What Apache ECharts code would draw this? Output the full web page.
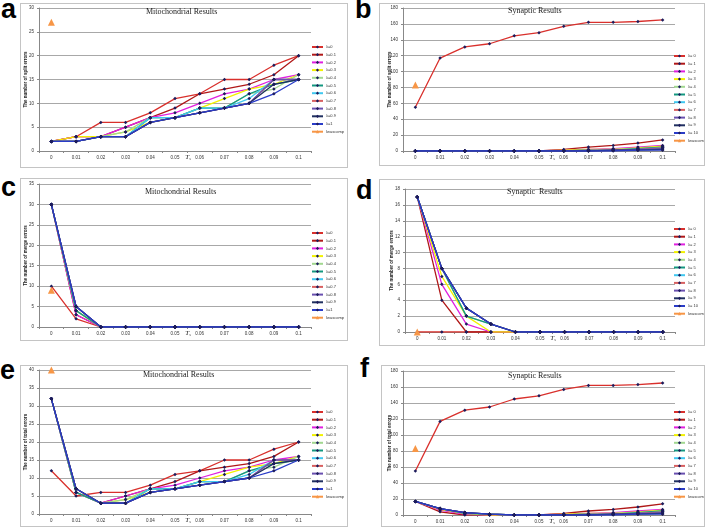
<!DOCTYPE html>
<html>
<head>
<meta charset="utf-8">
<script src="https://cdn.jsdelivr.net/npm/echarts@6/dist/echarts.min.js"></script>
<style>
  body { margin: 0; width: 708px; height: 529px; background: #fff; position: relative; overflow: hidden; font-family: "Liberation Sans", Arial, sans-serif; }
  .panel { position: absolute; border: 1px solid #c4c4c4; box-sizing: border-box; }
  .tag { position: absolute; font-weight: bold; font-size: 27px; line-height: 27px; color: #000; }
</style>
</head>
<body>
<div class="tag" style="left:1px;top:-4px">a</div>
<div class="tag" style="left:355px;top:-4px">b</div>
<div class="tag" style="left:1px;top:174px">c</div>
<div class="tag" style="left:356px;top:177px">d</div>
<div class="tag" style="left:0px;top:357px">e</div>
<div class="tag" style="left:360px;top:355px">f</div>

<div id="pa" class="panel" style="left:20px;top:3px;width:328px;height:165px"></div>
<div id="pb" class="panel" style="left:379px;top:3px;width:326px;height:163px"></div>
<div id="pc" class="panel" style="left:20px;top:178px;width:328px;height:163px"></div>
<div id="pd" class="panel" style="left:379px;top:179px;width:326px;height:167px"></div>
<div id="pe" class="panel" style="left:20px;top:365px;width:328px;height:162px"></div>
<div id="pf" class="panel" style="left:381px;top:365px;width:324px;height:162px"></div>

<script>
const tsLabels = ['0', '0.01', '0.02', '0.03', '0.04', '0.05', '0.06', '0.07', '0.08', '0.09', '0.1'];
const mitoNames = ['λ=0', 'λ=0.1', 'λ=0.2', 'λ=0.3', 'λ=0.4', 'λ=0.5', 'λ=0.6', 'λ=0.7', 'λ=0.8', 'λ=0.9', 'λ=1'];
const synNames = ['λ= 0', 'λ= 1', 'λ= 2', 'λ= 3', 'λ= 4', 'λ= 5', 'λ= 6', 'λ= 7', 'λ= 8', 'λ= 9', 'λ= 10'];
const compName = 'Iwascomp';

// a: mitochondrial split errors
const mitoSplit = [
  [2, 3, 6, 6, 8, 11, 12, 15, 15, 18, 20],
  [2, 3, 3, 5, 7, 9, 12, 13, 14, 16, 20],
  [2, 3, 3, 5, 7, 8, 10, 12, 13, 15, 16],
  [2, 3, 3, 4, 6, 7, 9, 11, 13, 14, 16],
  [2, 2, 3, 4, 7, 7, 9, 9, 12, 13, 16],
  [2, 2, 3, 3, 7, 7, 9, 9, 12, 14, 15],
  [2, 2, 3, 3, 7, 7, 9, 9, 11, 15, 15],
  [2, 2, 3, 3, 6, 7, 8, 9, 10, 15, 15],
  [2, 2, 3, 3, 6, 7, 8, 9, 10, 15, 15],
  [2, 2, 3, 3, 6, 7, 8, 9, 10, 14, 15],
  [2, 2, 3, 3, 6, 7, 8, 9, 10, 12, 15]
];
// c: mitochondrial merge errors
const mitoMerge = [
  [10, 2, 0, 0, 0, 0, 0, 0, 0, 0, 0],
  [30, 3, 0, 0, 0, 0, 0, 0, 0, 0, 0],
  [30, 3, 0, 0, 0, 0, 0, 0, 0, 0, 0],
  [30, 4, 0, 0, 0, 0, 0, 0, 0, 0, 0],
  [30, 4, 0, 0, 0, 0, 0, 0, 0, 0, 0],
  [30, 4, 0, 0, 0, 0, 0, 0, 0, 0, 0],
  [30, 5, 0, 0, 0, 0, 0, 0, 0, 0, 0],
  [30, 5, 0, 0, 0, 0, 0, 0, 0, 0, 0],
  [30, 5, 0, 0, 0, 0, 0, 0, 0, 0, 0],
  [30, 5, 0, 0, 0, 0, 0, 0, 0, 0, 0],
  [30, 5, 0, 0, 0, 0, 0, 0, 0, 0, 0]
];
// e: mitochondrial total errors
const mitoTotal = [
  [12, 5, 6, 6, 8, 11, 12, 15, 15, 18, 20],
  [32, 6, 3, 5, 7, 9, 12, 13, 14, 16, 20],
  [32, 6, 3, 5, 7, 8, 10, 12, 13, 15, 16],
  [32, 7, 3, 4, 6, 7, 9, 11, 13, 14, 16],
  [32, 6, 3, 4, 7, 7, 9, 9, 12, 13, 16],
  [32, 6, 3, 3, 7, 7, 9, 9, 12, 14, 15],
  [32, 7, 3, 3, 7, 7, 9, 9, 11, 15, 15],
  [32, 7, 3, 3, 6, 7, 8, 9, 10, 15, 15],
  [32, 7, 3, 3, 6, 7, 8, 9, 10, 15, 15],
  [32, 7, 3, 3, 6, 7, 8, 9, 10, 14, 15],
  [32, 7, 3, 3, 6, 7, 8, 9, 10, 12, 15]
];
// b: synaptic split errors
const synSplit = [
  [55, 117, 131, 135, 145, 149, 157, 162, 162, 163, 165],
  [0, 0, 0, 0, 0, 0, 2, 5, 7, 10, 14],
  [0, 0, 0, 0, 0, 0, 1, 2, 3, 5, 7],
  [0, 0, 0, 0, 0, 0, 1, 2, 2, 4, 6],
  [0, 0, 0, 0, 0, 0, 0, 1, 2, 3, 5],
  [0, 0, 0, 0, 0, 0, 0, 1, 1, 3, 5],
  [0, 0, 0, 0, 0, 0, 0, 1, 1, 2, 4],
  [0, 0, 0, 0, 0, 0, 0, 1, 1, 2, 4],
  [0, 0, 0, 0, 0, 0, 0, 0, 1, 2, 3],
  [0, 0, 0, 0, 0, 0, 0, 0, 1, 1, 2],
  [0, 0, 0, 0, 0, 0, 0, 0, 0, 1, 1]
];
// d: synaptic merge errors
const synMerge = [
  [0, 0, 0, 0, 0, 0, 0, 0, 0, 0, 0],
  [17, 4, 0, 0, 0, 0, 0, 0, 0, 0, 0],
  [17, 6, 1, 0, 0, 0, 0, 0, 0, 0, 0],
  [17, 7, 2, 0, 0, 0, 0, 0, 0, 0, 0],
  [17, 8, 2, 1, 0, 0, 0, 0, 0, 0, 0],
  [17, 8, 2, 1, 0, 0, 0, 0, 0, 0, 0],
  [17, 8, 3, 1, 0, 0, 0, 0, 0, 0, 0],
  [17, 8, 3, 1, 0, 0, 0, 0, 0, 0, 0],
  [17, 8, 3, 1, 0, 0, 0, 0, 0, 0, 0],
  [17, 8, 3, 1, 0, 0, 0, 0, 0, 0, 0],
  [17, 8, 3, 1, 0, 0, 0, 0, 0, 0, 0]
];
// f: synaptic total errors
const synTotal = [
  [55, 117, 131, 135, 145, 149, 157, 162, 162, 163, 165],
  [17, 4, 0, 0, 0, 0, 2, 5, 7, 10, 14],
  [17, 6, 1, 0, 0, 0, 1, 2, 3, 5, 7],
  [17, 7, 2, 0, 0, 0, 1, 2, 2, 4, 6],
  [17, 8, 2, 1, 0, 0, 0, 1, 2, 3, 5],
  [17, 8, 2, 1, 0, 0, 0, 1, 1, 3, 5],
  [17, 8, 3, 1, 0, 0, 0, 1, 1, 2, 4],
  [17, 8, 3, 1, 0, 0, 0, 1, 1, 2, 4],
  [17, 8, 3, 1, 0, 0, 0, 0, 1, 2, 3],
  [17, 8, 3, 1, 0, 0, 0, 0, 1, 1, 2],
  [17, 8, 3, 1, 0, 0, 0, 0, 0, 1, 1]
];
// comparison method, only at Ts = 0
const compValues = { a: 27, b: 83, c: 9, d: 0, e: 40, f: 83 };

const lineColors = ['#d9302c', '#b01818', '#e020e0', '#f2f200', '#a2d890', '#149880', '#40c8f0', '#d86060', '#6a50b0', '#203060', '#2a3cc8'];
const markerColor = '#1c1c5c';
const compColor = '#f79646';

function makePanel(id, cfg) {
  const chart = echarts.init(document.getElementById(id));
  const series = cfg.data.map((vals, i) => ({
    name: cfg.names[i],
    type: 'line',
    data: vals,
    symbol: 'diamond',
    symbolSize: 3.5,
    itemStyle: { color: markerColor },
    lineStyle: { color: lineColors[i], width: 1.3 }
  }));
  series.push({
    name: compName,
    type: 'line',
    data: [cfg.comp],
    symbol: 'triangle',
    symbolSize: 7,
    itemStyle: { color: compColor },
    lineStyle: { color: compColor, width: 1.3 },
    z: 5
  });

  chart.setOption({
    animation: false,
    title: {
      text: cfg.title,
      left: cfg.titleLeft,
      top: cfg.titleTop,
      padding: 0,
      textStyle: { fontFamily: 'Liberation Serif', fontSize: 8, fontWeight: 'normal', color: '#1a1a1a' }
    },
    grid: Object.assign({ containLabel: false, outerBoundsMode: 'none' }, cfg.grid),
    legend: {
      orient: 'vertical',
      left: cfg.legendLeft,
      top: cfg.legendTop,
      padding: 0,
      itemWidth: 11,
      itemHeight: 4,
      itemGap: 3.7,
      data: cfg.names.concat([compName]),
      textStyle: { fontSize: 4, lineHeight: 4, color: '#333', padding: [0, 0, 0, -2] }
    },
    xAxis: {
      type: 'category',
      data: tsLabels,
      boundaryGap: true,
      name: '{t|T}{s|s}',
      nameLocation: 'middle',
      nameGap: 3,
      nameMoveOverlap: false,
      nameTextStyle: {
        padding: [0, 0, 0, 26],
        rich: {
          t: { fontFamily: 'Liberation Serif', fontStyle: 'italic', fontSize: 7, color: '#222' },
          s: { fontFamily: 'Liberation Serif', fontStyle: 'italic', fontSize: 4, color: '#222', padding: [3, 0, 0, 0] }
        }
      },
      axisLine: { lineStyle: { color: '#888', width: 1 } },
      axisTick: { show: true, length: 2, lineStyle: { color: '#888' } },
      axisLabel: { fontSize: 4.5, color: '#333', margin: 4 }
    },
    yAxis: {
      type: 'value',
      min: 0,
      max: cfg.yMax,
      interval: cfg.yStep,
      name: cfg.yName,
      nameLocation: 'middle',
      nameGap: 11,
      nameMoveOverlap: false,
      nameTextStyle: { fontSize: 4.5, fontWeight: 'bold', color: '#222' },
      axisLine: { show: true, lineStyle: { color: '#888', width: 1 } },
      axisTick: { show: true, length: 2, lineStyle: { color: '#888' } },
      axisLabel: { fontSize: 4.5, color: '#333', margin: 5 },
      splitLine: { lineStyle: { color: '#a8a8a8', width: 1 } }
    },
    series: series
  });
}

makePanel('pa', {
  title: 'Mitochondrial Results', titleLeft: 125, titleTop: 4,
  grid: { left: 18, top: 4, right: 36, bottom: 16 },
  legendLeft: 290, legendTop: 41,
  yMax: 30, yStep: 5, yName: 'The number of split errors',
  names: mitoNames, data: mitoSplit, comp: compValues.a
});
makePanel('pb', {
  title: 'Synaptic Results', titleLeft: 128, titleTop: 3,
  grid: { left: 23, top: 4, right: 29, bottom: 14 },
  legendLeft: 293, legendTop: 50,
  yMax: 180, yStep: 20, yName: 'The number of split errors',
  names: synNames, data: synSplit, comp: compValues.b
});
makePanel('pc', {
  title: 'Mitochondrial Results', titleLeft: 124, titleTop: 9,
  grid: { left: 18, top: 5, right: 36, bottom: 13 },
  legendLeft: 290, legendTop: 52,
  yMax: 35, yStep: 5, yName: 'The number of merge errors',
  names: mitoNames, data: mitoMerge, comp: compValues.c
});
makePanel('pd', {
  title: 'Synaptic  Results', titleLeft: 127, titleTop: 8,
  grid: { left: 25, top: 9, right: 29, bottom: 13 },
  legendLeft: 293, legendTop: 47,
  yMax: 18, yStep: 2, yName: 'The number of merge errors',
  names: synNames, data: synMerge, comp: compValues.d
});
makePanel('pe', {
  title: 'Mitochondrial Results', titleLeft: 122, titleTop: 5,
  grid: { left: 18, top: 4, right: 36, bottom: 12 },
  legendLeft: 290, legendTop: 44,
  yMax: 40, yStep: 5, yName: 'The number of total errors',
  names: mitoNames, data: mitoTotal, comp: compValues.e
});
makePanel('pf', {
  title: 'Synaptic Results', titleLeft: 126, titleTop: 6,
  grid: { left: 21, top: 5, right: 29, bottom: 11 },
  legendLeft: 291, legendTop: 44,
  yMax: 180, yStep: 20, yName: 'The number of total errors',
  names: synNames, data: synTotal, comp: compValues.f
});
</script>
</body>
</html>
